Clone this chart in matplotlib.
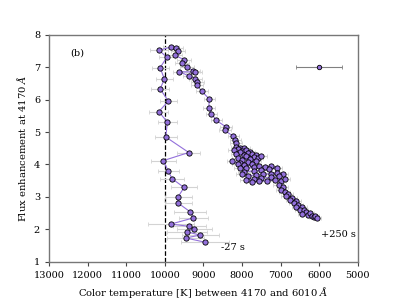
import numpy as np
import matplotlib.pyplot as plt

plt.rcParams['font.family'] = 'DejaVu Serif'
plt.rcParams['mathtext.fontset'] = 'dejavuserif'

# color temperature [K], flux enhancement, error in temperature
temp = [8959, 9459, 9088, 9433, 9236, 9365, 9847, 9262, 9347, 9658,
        9658, 9503, 9813, 9909, 10040, 9381, 9977, 9935, 10158, 9909,
        10124, 10013, 10124, 9951, 10150, 9839, 9718, 9658, 9736, 9510,
        9554, 9417, 9269, 9210, 9624, 9373, 9210, 9158, 9174, 9044,
        8847, 8863, 8795, 8666, 8415, 8448, 8225, 8174, 8163,
        8150, 8050, 7950, 8100, 8200, 8000, 7900, 7800, 7850, 8050,
        8150, 7950, 7750, 7650, 7700, 7900, 8100, 8000, 7800, 7600,
        7500, 7650, 7850, 8050, 8250, 8100, 7950, 7750,
        8050, 7900, 7700, 7550, 7400, 7250, 7100, 7300, 7500, 7700,
        7950, 8000, 7850, 7650, 7450, 7250, 7100, 6950, 7050, 7250,
        7500, 7700, 7900, 7750, 7550, 7350, 7150, 7000, 6900,
        7050, 6950, 7000, 6900, 6800, 6850, 6700, 6750, 6600, 6650,
        6550, 6600, 6450, 6500, 6400, 6350, 6450, 6300, 6250, 6200,
        6150, 6100, 6050]
flux = [1.60, 1.73, 1.82, 1.92, 2.02, 2.09, 2.16, 2.35, 2.54, 2.81,
        3.00, 3.29, 3.56, 3.79, 4.12, 4.37, 4.85, 5.31, 5.63, 5.96,
        6.33, 6.64, 6.99, 7.31, 7.53, 7.63, 7.61, 7.52, 7.37, 7.24,
        7.14, 7.00, 6.90, 6.85, 6.87, 6.73, 6.65, 6.56, 6.46, 6.26,
        6.02, 5.76, 5.57, 5.36, 5.16, 5.05, 4.87, 4.77, 4.66,
        4.55, 4.52, 4.50, 4.47, 4.44, 4.42, 4.45, 4.40, 4.35, 4.38,
        4.33, 4.30, 4.32, 4.28, 4.22, 4.25, 4.20, 4.15, 4.18, 4.20,
        4.25, 4.12, 4.08, 4.05, 4.10, 4.02, 3.98, 4.00,
        3.90, 3.88, 3.92, 3.95, 3.92, 3.95, 3.90, 3.85, 3.82, 3.80,
        3.78, 3.70, 3.65, 3.68, 3.70, 3.72, 3.75, 3.72, 3.65, 3.60,
        3.58, 3.55, 3.52, 3.45, 3.48, 3.50, 3.52, 3.48, 3.55,
        3.38, 3.30, 3.22, 3.15, 3.10, 3.02, 2.98, 2.90, 2.88, 2.80,
        2.75, 2.68, 2.70, 2.60, 2.58, 2.52, 2.48, 2.45, 2.50, 2.42,
        2.38, 2.40, 2.36]
temp_err = [620, 480, 480, 520, 450, 420, 600, 380, 420, 350,
            350, 330, 320, 280, 330, 300, 280, 250, 250, 230,
            230, 220, 220, 210, 240, 200, 190, 190, 190, 180,
            180, 180, 170, 170, 170, 170, 160, 160, 160, 160,
            150, 150, 150, 150, 150, 150, 150, 150, 150,
            150, 160, 150, 140, 160, 150, 150, 140, 150, 160,
            150, 140, 150, 150, 140, 150, 160, 150, 140, 150,
            150, 140, 150, 160, 150, 150, 140, 150,
            160, 150, 150, 140, 150, 150, 140, 150, 150, 160,
            150, 150, 140, 150, 150, 140, 150, 150, 140, 150,
            150, 140, 150, 150, 140, 150, 150, 140, 150,
            140, 140, 130, 140, 130, 130, 130, 120, 130, 130,
            120, 120, 120, 120, 110, 120, 110, 110, 110, 110,
            110, 100, 100]

ref_temp, ref_flux, ref_err = 6000, 7.0, 600

fig, ax = plt.subplots(figsize=(3.99, 2.99), dpi=100)
fig.subplots_adjust(left=0.123, right=0.897, top=0.883, bottom=0.125)

ax.errorbar(temp, flux, xerr=temp_err, fmt='none', ecolor='lightgrey',
            elinewidth=0.8, capsize=1.5, capthick=0.6, zorder=1)
ax.plot(temp, flux, '-', color='mediumpurple', lw=0.8, zorder=2)
ax.plot(temp, flux, 'o', ms=3.8, mfc='mediumpurple', mec='black',
        mew=0.6, zorder=3)

ax.errorbar([ref_temp], [ref_flux], xerr=[ref_err], fmt='o', ms=3.2,
            mfc='mediumpurple', mec='black', mew=0.6, ecolor='grey',
            elinewidth=0.8, capsize=1.5)

ax.axvline(10000, color='black', ls='--', lw=0.9, zorder=0)

ax.text(12450, 7.45, '(b)', fontsize=7, va='center')
ax.text(8550, 1.45, '-27 s', fontsize=7, va='center')
ax.text(5950, 1.85, '+250 s', fontsize=7, va='center')

ax.set_xlim(13000, 5000)
ax.set_ylim(1, 8)
ax.set_xticks(np.arange(13000, 4999, -1000))
ax.set_yticks(np.arange(1, 9, 1))
ax.set_xlabel(r'Color temperature [K] between 4170 and 6010 $\AA$', fontsize=7.2)
ax.set_ylabel(r'Flux enhancement at 4170 $\AA$', fontsize=7.2)
ax.tick_params(labelsize=7, length=3, width=0.8, color='#444444')
for s in ax.spines.values():
    s.set_color('#777777')
    s.set_linewidth(1.0)

fig.savefig('out.png', dpi=100)
